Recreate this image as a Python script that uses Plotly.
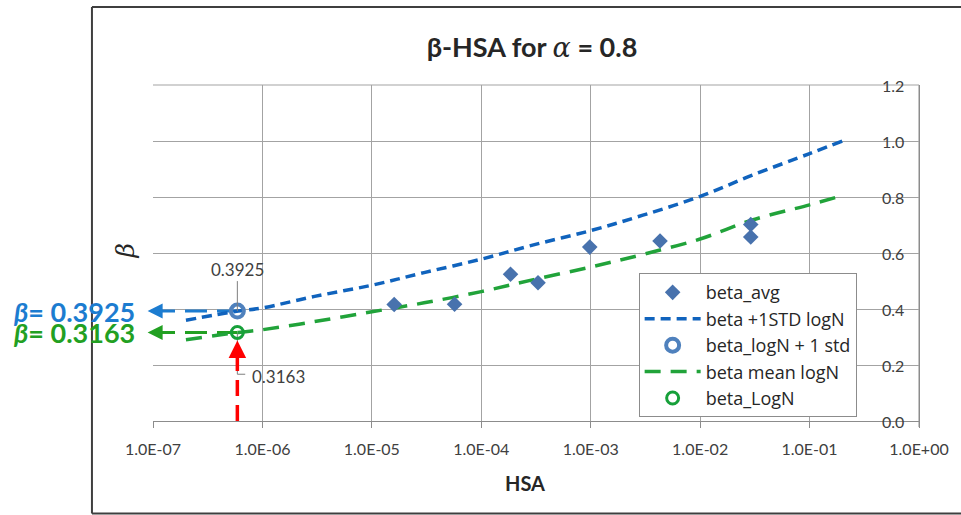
import math
import plotly.graph_objects as go

# ---------------- data ----------------
hsa_avg = [1.6e-5, 5.7e-5, 1.85e-4, 3.3e-4, 9.8e-4, 4.3e-3, 2.9e-2, 2.9e-2]
beta_avg = [0.416, 0.417, 0.524, 0.494, 0.621, 0.643, 0.702, 0.657]

hsa_std_curve = [2e-7, 6e-7, 1e-6, 3e-6, 1e-5, 3e-5, 1e-4, 3e-4, 1e-3, 3e-3, 1e-2, 3e-2, 1e-1, 2e-1]
beta_std_curve = [0.360, 0.3925, 0.404, 0.445, 0.485, 0.530, 0.578, 0.629, 0.680, 0.735, 0.802, 0.878, 0.955, 1.000]

hsa_mean_curve = [2e-7, 6e-7, 1e-6, 3e-6, 1e-5, 3e-5, 1e-4, 3e-4, 1e-3, 3e-3, 1e-2, 3e-2, 1e-1, 1.8e-1]
beta_mean_curve = [0.290, 0.3163, 0.326, 0.355, 0.390, 0.422, 0.462, 0.505, 0.550, 0.595, 0.650, 0.718, 0.772, 0.800]

hsa_point = [5.9e-7]
beta_logn_std = [0.3925]
beta_logn = [0.3163]

x_tickvals = [1e-7, 1e-6, 1e-5, 1e-4, 1e-3, 1e-2, 1e-1, 1e0]
x_ticktext = ["1.0E-07", "1.0E-06", "1.0E-05", "1.0E-04", "1.0E-03", "1.0E-02", "1.0E-01", "1.0E+00"]
y_tickvals = [0.0, 0.2, 0.4, 0.6, 0.8, 1.0, 1.2]
y_ticktext = ["0.0", "0.2", "0.4", "0.6", "0.8", "1.0", "1.2"]

# ---------------- styles ----------------
C_DIAMOND = "#4872ad"
C_BLUE = "#1063bd"
C_GREEN = "#21a33a"
C_BCIRC = "#4f81bd"
C_GCIRC = "#17a03a"
C_BTXT = "#1c7cd0"
C_GTXT = "#22a022"
C_GRID = "#a3a3a3"
C_AXIS = "#8c8c8c"
C_TXT = "#404040"
FONT = "Lato"
EPS = 1e-6

xm = hsa_point[0]
bs = beta_logn_std[0]
bm = beta_logn[0]

fig = go.Figure()

# leader line for lower label (L-shape)
fig.add_trace(go.Scatter(x=[xm, xm, xm * 1.18], y=[bm, 0.167, 0.167], mode="lines",
                         line=dict(color="#7f7f7f", width=1), showlegend=False, hoverinfo="skip"))

# dashed arrows toward the left
fig.add_trace(go.Scatter(x=[x_tickvals[0], xm], y=[bs, bs], mode="lines",
                         line=dict(color=C_BTXT, width=3, dash="22px,10px"),
                         showlegend=False, hoverinfo="skip"))
fig.add_trace(go.Scatter(x=[x_tickvals[0], xm], y=[bm, bm], mode="lines",
                         line=dict(color=C_GTXT, width=3, dash="22px,10px"),
                         showlegend=False, hoverinfo="skip"))

# curves
fig.add_trace(go.Scatter(x=hsa_std_curve, y=beta_std_curve, mode="lines", name="beta +1STD logN",
                         line=dict(color=C_BLUE, width=3.5, dash="10px,6px", shape="spline"),
                         legendrank=2))
fig.add_trace(go.Scatter(x=hsa_mean_curve, y=beta_mean_curve, mode="lines", name="beta mean logN",
                         line=dict(color=C_GREEN, width=3.5, dash="16px,10px", shape="spline"),
                         legendrank=4))

# diamonds
fig.add_trace(go.Scatter(x=hsa_avg, y=beta_avg, mode="markers", name="beta_avg",
                         marker=dict(symbol="diamond", size=12, color=C_DIAMOND),
                         legendrank=1))

# red dashed vertical line
fig.add_trace(go.Scatter(x=[xm, xm], y=[0, bm - 0.085], mode="lines",
                         line=dict(color="#ff0000", width=3.5, dash="16px,9px"),
                         showlegend=False, hoverinfo="skip"))

# circles
fig.add_trace(go.Scatter(x=hsa_point, y=beta_logn_std, mode="markers", name="beta_logN + 1 std",
                         marker=dict(symbol="circle-open", size=13, color=C_BCIRC, line=dict(width=4)),
                         legendrank=3))
fig.add_trace(go.Scatter(x=hsa_point, y=beta_logn, mode="markers", name="beta_LogN",
                         marker=dict(symbol="circle-open", size=12, color=C_GCIRC, line=dict(width=3)),
                         legendrank=5))

annotations = [
    # data labels
    dict(x=math.log10(xm), y=bs, xref="x", yref="y", text=f"{bs:.4f}", showarrow=True,
         ax=0, ay=-42, arrowhead=0, arrowwidth=1, arrowcolor="#7f7f7f",
         font=dict(size=17, color=C_TXT, family=FONT)),
    dict(x=math.log10(xm), y=bm, xref="x", yref="y", text=f"{bm:.4f}", showarrow=False,
         xanchor="left", yanchor="middle", xshift=13, yshift=-44,
         font=dict(size=17, color=C_TXT, family=FONT)),
    # arrow heads
    dict(x=-0.007, y=bs, xref="paper", yref="y", text="", showarrow=True, ax=16, ay=0,
         arrowhead=2, arrowsize=1, arrowwidth=3, arrowcolor=C_BTXT),
    dict(x=-0.007, y=bm, xref="paper", yref="y", text="", showarrow=True, ax=16, ay=0,
         arrowhead=2, arrowsize=1, arrowwidth=3, arrowcolor=C_GTXT),
    dict(x=math.log10(xm), y=bm, xref="x", yref="y", text="", showarrow=True, ax=0, ay=24,
         standoff=8, arrowhead=2, arrowsize=1, arrowwidth=3.5, arrowcolor="#ff0000"),
    # beta value callouts
    dict(x=-0.1855, y=bs, xref="paper", yref="y", xanchor="left", yanchor="middle", showarrow=False,
         text=f"<b><i>β</i>= {bs:.4f}</b>", font=dict(size=27, color=C_BTXT, family=FONT)),
    dict(x=-0.1855, y=bm, xref="paper", yref="y", xanchor="left", yanchor="middle", showarrow=False,
         text=f"<b><i>β</i>= {bm:.4f}</b>", font=dict(size=27, color=C_GTXT, family=FONT)),
    # axis titles
    dict(x=0.486, y=-0.1856, xref="paper", yref="paper", xanchor="center", yanchor="middle",
         showarrow=False, text="<b>HSA</b>", font=dict(size=20, color="#262626", family=FONT)),
    dict(x=-0.036, y=0.5055, xref="paper", yref="paper", xanchor="center", yanchor="middle",
         showarrow=False, textangle=-90,
         text="<i>β</i>", font=dict(size=25, color="#262626", family="DejaVu Serif")),
]

# y tick labels drawn left of the right-hand axis line, over the gridlines
for v, t in zip(y_tickvals, y_ticktext):
    annotations.append(dict(x=0.983, y=v, xref="paper", yref="y", xanchor="right", yanchor="middle",
                            showarrow=False, text=t, font=dict(size=16, color=C_TXT, family=FONT)))

shapes = [
    # outer frame
    dict(type="line", xref="paper", yref="paper", x0=-0.0797, x1=-0.0797, y0=1.2324, y1=-0.275,
         line=dict(color="#3f3f3f", width=2), layer="below"),
    dict(type="line", xref="paper", yref="paper", x0=-0.0797, x1=1.06, y0=1.2324, y1=1.2324,
         line=dict(color="#3f3f3f", width=2), layer="below"),
    dict(type="line", xref="paper", yref="paper", x0=-0.0797, x1=1.06, y0=-0.275, y1=-0.275,
         line=dict(color="#3f3f3f", width=2), layer="below"),
    # right-hand value axis line
    dict(type="line", xref="paper", yref="paper", x0=1, x1=1, y0=-0.018, y1=1,
         line=dict(color=C_AXIS, width=1), layer="below"),
    # top gridline
    dict(type="line", xref="paper", yref="paper", x0=0, x1=1, y0=1, y1=1,
         line=dict(color=C_GRID, width=1), layer="below"),
]

fig.update_layout(
    width=961, height=515,
    margin=dict(l=153, r=39, t=85, b=94),
    paper_bgcolor="white", plot_bgcolor="white",
    font=dict(family=FONT, color=C_TXT),
    title=dict(text="<b>β-HSA for <span style=\"font-family:'DejaVu Serif';font-weight:normal\"><i>α</i></span> = 0.8</b>",
               x=0.5536, y=0.907, xanchor="center", yanchor="middle",
               font=dict(size=27, color="#262626", family=FONT)),
    xaxis=dict(type="log", range=[-7 - EPS, 0 + EPS], tickvals=x_tickvals, ticktext=x_ticktext,
               showgrid=True, gridcolor=C_GRID, gridwidth=1,
               showline=True, linecolor=C_AXIS, linewidth=1,
               ticks="outside", ticklen=6, tickcolor=C_AXIS,
               tickfont=dict(size=16, color=C_TXT), ticklabelstandoff=8, zeroline=False),
    yaxis=dict(side="right", range=[0, 1.2 + EPS], tickvals=y_tickvals,
               showticklabels=False, showgrid=True, gridcolor=C_GRID, gridwidth=1,
               showline=True, linecolor=C_AXIS, linewidth=1, ticks="", zeroline=False),
    legend=dict(x=0.634, y=0.440, xanchor="left", yanchor="top", bgcolor="white",
                bordercolor=C_AXIS, borderwidth=1,
                font=dict(size=18, color="#262626", family="Open Sans"),
                traceorder="normal", itemwidth=56),
    annotations=annotations,
    shapes=shapes,
)

fig.write_html("out.html")
